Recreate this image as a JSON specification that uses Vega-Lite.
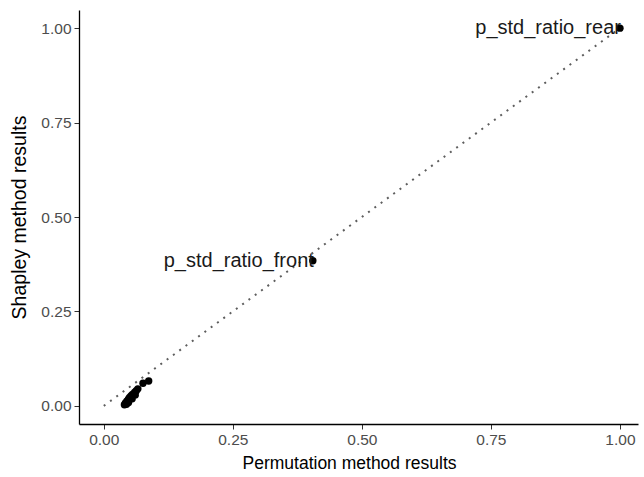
{
  "$schema": "https://vega.github.io/schema/vega-lite/v6.json",
  "width": 559,
  "height": 414,
  "autosize": "none",
  "padding": {"left": 79, "top": 10, "right": 6, "bottom": 53},
  "background": "white",
  "config": {
    "view": {"stroke": null},
    "font": "Liberation Sans",
    "axis": {
      "grid": false,
      "domainColor": "black",
      "domainWidth": 1.3,
      "tickColor": "#333333",
      "tickSize": 5,
      "labelPadding": 3,
      "labelColor": "#4d4d4d",
      "labelFontSize": 15.5,
      "labelFont": "Liberation Sans",
      "titleFont": "Liberation Sans",
      "titleFontWeight": "normal",
      "titleColor": "black"
    }
  },
  "datasets": {
    "pts": [
      {"perm": 1.0, "shap": 1.0, "label": "p_std_ratio_rear"},
      {"perm": 0.405, "shap": 0.384, "label": "p_std_ratio_front"},
      {"perm": 0.087, "shap": 0.066, "label": ""},
      {"perm": 0.076, "shap": 0.060, "label": ""},
      {"perm": 0.066, "shap": 0.045, "label": ""},
      {"perm": 0.063, "shap": 0.040, "label": ""},
      {"perm": 0.060, "shap": 0.036, "label": ""},
      {"perm": 0.056, "shap": 0.031, "label": ""},
      {"perm": 0.053, "shap": 0.027, "label": ""},
      {"perm": 0.050, "shap": 0.022, "label": ""},
      {"perm": 0.048, "shap": 0.018, "label": ""},
      {"perm": 0.045, "shap": 0.013, "label": ""},
      {"perm": 0.042, "shap": 0.008, "label": ""},
      {"perm": 0.040, "shap": 0.003, "label": ""},
      {"perm": 0.048, "shap": 0.009, "label": ""},
      {"perm": 0.055, "shap": 0.019, "label": ""},
      {"perm": 0.061, "shap": 0.029, "label": ""},
      {"perm": 0.044, "shap": 0.004, "label": ""}
    ],
    "diag": [
      {"perm": 0, "shap": 0},
      {"perm": 1, "shap": 1}
    ]
  },
  "layer": [
    {
      "data": {"name": "diag"},
      "mark": {"type": "line", "color": "#5e5e5e", "strokeWidth": 2, "strokeDash": [2, 5.8], "strokeCap": "butt"},
      "encoding": {
        "x": {"field": "perm", "type": "quantitative", "scale": {"domain": [-0.048, 1.035], "nice": false, "zero": false},
          "axis": {"values": [0, 0.25, 0.5, 0.75, 1], "format": ".2f", "title": "Permutation method results", "titleFontSize": 17.5, "titlePadding": 7, "titleX": 270, "titleAnchor": "middle"}},
        "y": {"field": "shap", "type": "quantitative", "scale": {"domain": [-0.048, 1.048], "nice": false, "zero": false},
          "axis": {"values": [0, 0.25, 0.5, 0.75, 1], "format": ".2f", "title": "Shapley method results", "titleFontSize": 19.5, "titlePadding": 11}}
      }
    },
    {
      "data": {"name": "pts"},
      "mark": {"type": "circle", "color": "black", "opacity": 1, "size": 55},
      "encoding": {
        "x": {"field": "perm", "type": "quantitative"},
        "y": {"field": "shap", "type": "quantitative"}
      }
    },
    {
      "data": {"name": "pts"},
      "mark": {"type": "text", "align": "right", "baseline": "middle", "fontSize": 20, "color": "#1a1a1a", "dx": 1},
      "encoding": {
        "x": {"field": "perm", "type": "quantitative"},
        "y": {"field": "shap", "type": "quantitative"},
        "text": {"field": "label"}
      }
    }
  ]
}
